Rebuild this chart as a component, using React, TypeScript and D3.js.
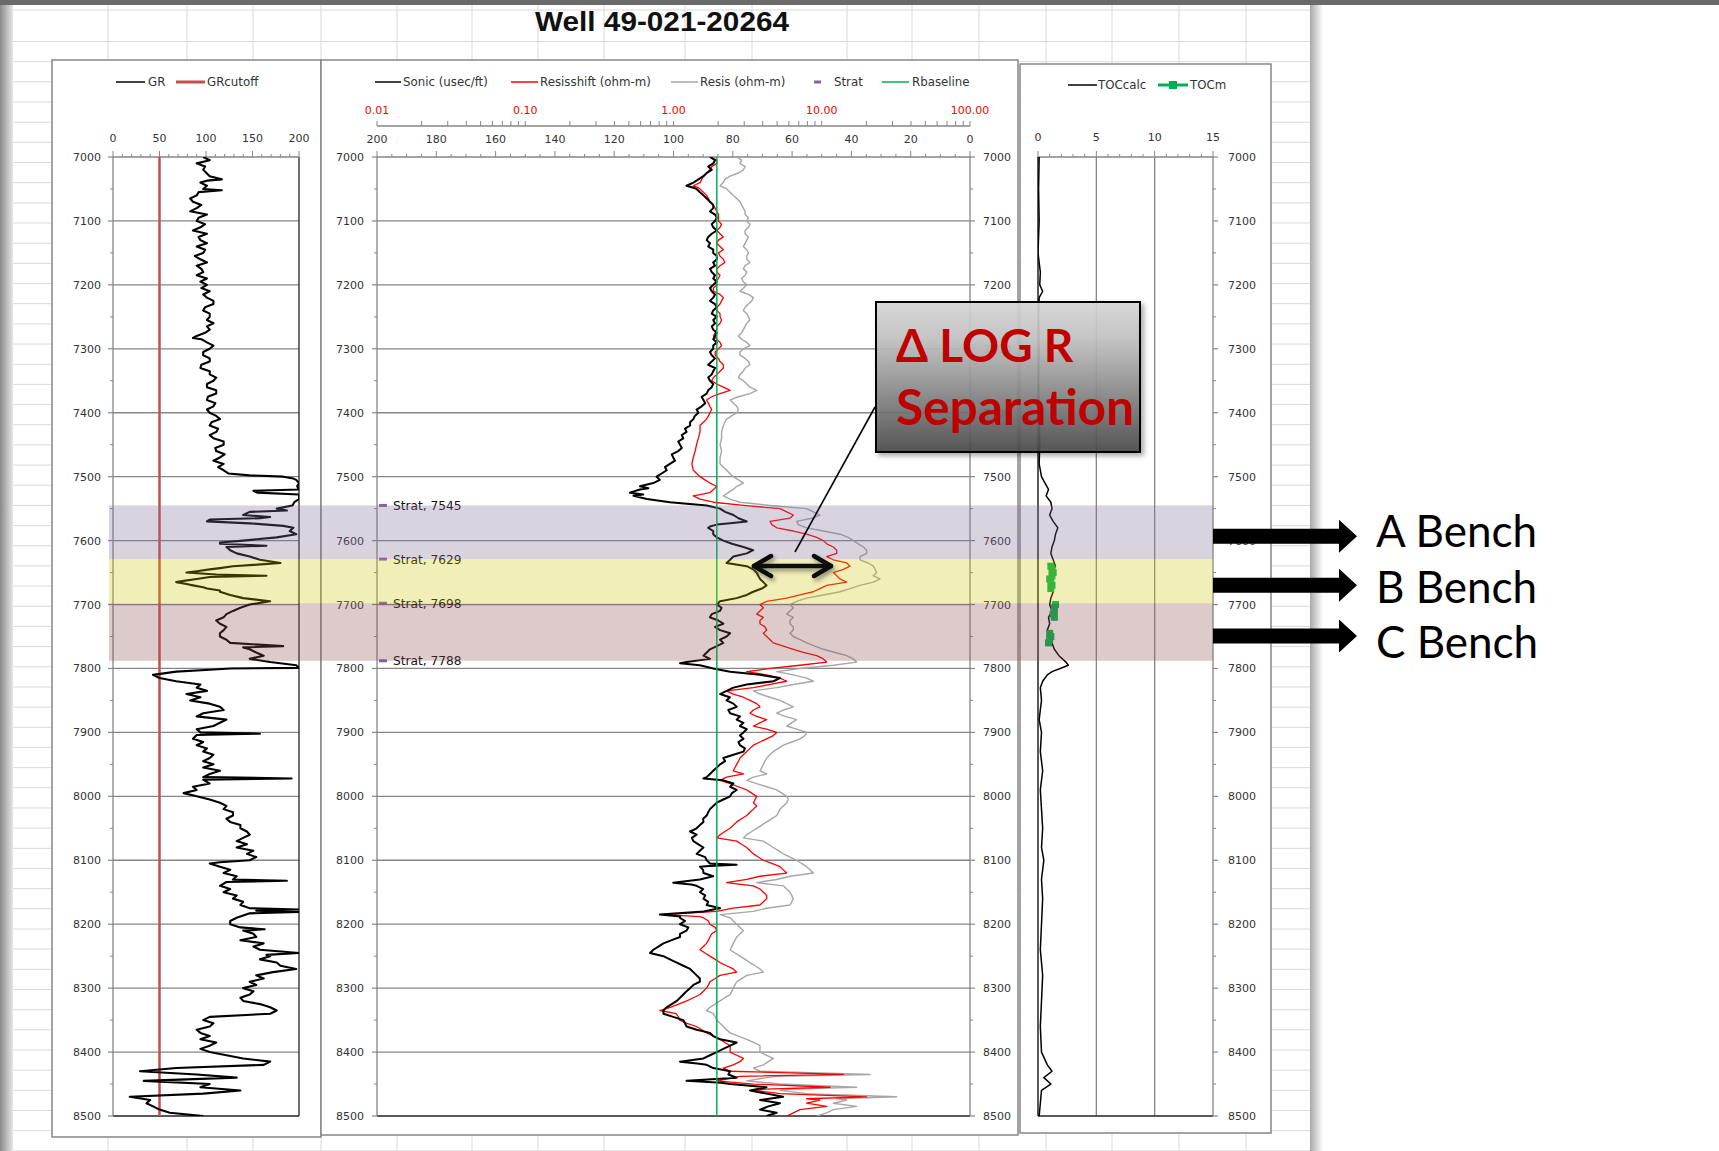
import React from "react";
import * as d3 from "d3";

// ---------------- DATA ----------------
const DEPTH_TICKS = [7000, 7100, 7200, 7300, 7400, 7500, 7600, 7700, 7800, 7900, 8000, 8100, 8200, 8300, 8400, 8500];
const GR_TICKS = [0, 50, 100, 150, 200];
const SONIC_TICKS = [200, 180, 160, 140, 120, 100, 80, 60, 40, 20, 0];
const RES_TICKS = [0.01, 0.1, 1, 10, 100];
const RES_LABELS = ["0.01", "0.10", "1.00", "10.00", "100.00"];
const TOC_TICKS = [0, 5, 10, 15];
const GR_CUTOFF = 50;
const RBASELINE = 1.96;
const STRAT_DEPTHS = [7545, 7629, 7698, 7788];
const STRAT_SONIC = 198;
const BENCH_NAMES = ["A Bench", "B Bench", "C Bench"];
const BENCH_TOPS = [7545, 7629, 7698];
const BENCH_BASES = [7629, 7698, 7788];
const BENCH_COLORS = ["rgba(128,108,152,0.30)", "rgba(204,197,0,0.28)", "rgba(142,82,82,0.30)"];

const GR: number[][] = [
  [7000, 97], [7005, 104], [7010, 90], [7015, 99], [7020, 97], [7030, 104], [7035, 117], [7037, 101], [7040, 94], [7045, 101],
  [7050, 97], [7052, 117], [7055, 92], [7060, 90], [7065, 83], [7070, 86], [7075, 95], [7080, 90], [7085, 83], [7090, 101],
  [7095, 92], [7100, 90], [7105, 99], [7110, 94], [7115, 86], [7120, 101], [7125, 92], [7130, 94], [7135, 101], [7140, 90],
  [7145, 99], [7150, 97], [7155, 88], [7160, 94], [7165, 101], [7170, 90], [7175, 95], [7180, 97], [7185, 90], [7190, 101],
  [7195, 94], [7200, 101], [7205, 95], [7210, 104], [7215, 97], [7220, 101], [7225, 108], [7230, 108], [7235, 99], [7240, 97],
  [7245, 104], [7250, 104], [7255, 101], [7260, 108], [7265, 101], [7270, 104], [7275, 99], [7280, 90], [7283, 86], [7285, 95],
  [7290, 101], [7295, 108], [7300, 104], [7305, 97], [7310, 97], [7315, 104], [7320, 104], [7325, 95], [7330, 94], [7335, 104],
  [7340, 104], [7345, 111], [7350, 108], [7355, 101], [7360, 101], [7365, 111], [7370, 111], [7375, 102], [7380, 101], [7385, 110],
  [7390, 108], [7395, 101], [7400, 104], [7405, 111], [7410, 115], [7415, 106], [7420, 104], [7425, 113], [7430, 111], [7435, 104],
  [7440, 108], [7445, 119], [7450, 119], [7455, 110], [7460, 111], [7465, 120], [7470, 115], [7475, 108], [7480, 119], [7485, 113],
  [7490, 119], [7495, 124], [7498, 147], [7500, 183], [7503, 194], [7505, 197], [7510, 200], [7515, 198], [7520, 200], [7522, 151],
  [7525, 155], [7528, 200], [7535, 200], [7540, 195], [7545, 193], [7550, 176], [7553, 187], [7555, 147], [7560, 140], [7563, 169],
  [7565, 158], [7567, 104], [7570, 101], [7573, 147], [7577, 183], [7580, 194], [7585, 190], [7590, 197], [7595, 176], [7600, 140],
  [7603, 115], [7605, 115], [7608, 165], [7610, 122], [7615, 126], [7620, 133], [7625, 147], [7630, 158], [7635, 180], [7638, 151],
  [7640, 129], [7643, 115], [7645, 104], [7648, 90], [7650, 79], [7653, 111], [7655, 165], [7657, 104], [7660, 90], [7663, 76],
  [7665, 68], [7668, 79], [7670, 86], [7673, 97], [7675, 101], [7678, 115], [7680, 115], [7685, 126], [7690, 140], [7695, 169],
  [7700, 147], [7705, 137], [7710, 129], [7715, 122], [7720, 119], [7725, 111], [7730, 115], [7735, 122], [7740, 119], [7745, 115],
  [7750, 115], [7755, 122], [7760, 126], [7765, 183], [7767, 140], [7770, 147], [7775, 154], [7780, 162], [7785, 147], [7790, 169],
  [7795, 197], [7799, 200], [7800, 126], [7802, 104], [7805, 68], [7810, 43], [7815, 50], [7820, 68], [7825, 94], [7830, 90],
  [7835, 101], [7840, 79], [7845, 94], [7850, 83], [7855, 104], [7860, 115], [7865, 119], [7870, 97], [7875, 90], [7880, 122],
  [7885, 115], [7890, 108], [7895, 90], [7900, 94], [7902, 158], [7904, 90], [7910, 86], [7915, 97], [7920, 90], [7925, 101],
  [7930, 97], [7935, 108], [7940, 104], [7945, 97], [7950, 108], [7955, 97], [7960, 115], [7965, 104], [7970, 97], [7972, 192],
  [7974, 97], [7980, 104], [7985, 86], [7990, 90], [7995, 76], [8000, 90], [8005, 104], [8010, 115], [8015, 122], [8020, 119],
  [8025, 129], [8030, 129], [8035, 122], [8040, 126], [8045, 137], [8050, 137], [8055, 144], [8060, 147], [8065, 140], [8070, 133],
  [8075, 144], [8080, 133], [8085, 151], [8090, 144], [8095, 154], [8100, 147], [8103, 115], [8105, 104], [8110, 115], [8115, 126],
  [8120, 119], [8125, 133], [8130, 129], [8132, 187], [8134, 122], [8140, 115], [8145, 126], [8150, 119], [8155, 133], [8160, 129],
  [8165, 140], [8170, 137], [8175, 147], [8177, 200], [8179, 154], [8181, 200], [8183, 147], [8190, 133], [8195, 126], [8200, 126],
  [8205, 137], [8208, 163], [8210, 140], [8215, 151], [8220, 154], [8225, 137], [8230, 162], [8235, 151], [8240, 158], [8245, 200],
  [8248, 165], [8250, 169], [8255, 158], [8260, 176], [8265, 180], [8270, 197], [8275, 172], [8280, 154], [8285, 162], [8290, 147],
  [8295, 154], [8300, 140], [8305, 151], [8310, 147], [8315, 137], [8320, 140], [8325, 158], [8330, 169], [8335, 176], [8340, 169],
  [8345, 104], [8350, 97], [8355, 108], [8360, 104], [8365, 90], [8370, 94], [8375, 104], [8380, 94], [8385, 111], [8390, 104],
  [8395, 94], [8400, 104], [8405, 122], [8410, 140], [8415, 169], [8420, 162], [8425, 68], [8430, 29], [8435, 90], [8440, 133],
  [8445, 33], [8450, 104], [8455, 94], [8460, 137], [8465, 97], [8470, 18], [8475, 40], [8480, 36], [8485, 43], [8490, 50],
  [8495, 61], [8500, 97],
];

const SONIC: number[][] = [
  [7000, 87.7], [7005, 86.0], [7010, 86.6], [7015, 88.3], [7020, 87.1], [7025, 88.8], [7030, 89.9], [7035, 91.6], [7040, 93.3], [7045, 95.6],
  [7048, 93.3], [7050, 92.2], [7055, 91.1], [7060, 89.9], [7065, 88.8], [7070, 87.7], [7075, 86.6], [7080, 86.6], [7085, 87.7], [7090, 86.0],
  [7095, 85.4], [7100, 86.0], [7105, 87.1], [7110, 86.6], [7115, 85.4], [7120, 87.1], [7125, 88.3], [7130, 88.8], [7135, 87.7], [7140, 88.3],
  [7145, 86.6], [7150, 86.6], [7155, 85.4], [7160, 85.4], [7165, 86.6], [7170, 86.0], [7175, 87.7], [7180, 87.1], [7185, 86.0], [7190, 86.6],
  [7195, 85.4], [7200, 86.6], [7205, 87.7], [7210, 87.1], [7215, 86.0], [7220, 86.6], [7225, 87.7], [7230, 86.0], [7235, 85.4], [7240, 86.6],
  [7245, 87.1], [7250, 85.4], [7255, 86.6], [7260, 86.0], [7265, 87.1], [7270, 86.6], [7275, 85.4], [7280, 86.0], [7285, 86.6], [7290, 85.4],
  [7295, 86.6], [7300, 86.6], [7305, 87.7], [7310, 87.1], [7315, 86.0], [7320, 87.1], [7325, 88.3], [7330, 86.0], [7335, 86.6], [7340, 87.1],
  [7345, 88.3], [7350, 87.7], [7355, 86.6], [7360, 87.1], [7365, 88.3], [7370, 88.8], [7375, 90.5], [7380, 89.9], [7385, 89.3], [7390, 90.5],
  [7395, 92.2], [7400, 91.6], [7405, 92.8], [7410, 93.3], [7415, 94.4], [7420, 94.4], [7425, 96.1], [7430, 95.6], [7435, 97.2], [7440, 96.7],
  [7445, 98.4], [7450, 97.8], [7455, 97.2], [7460, 98.4], [7465, 100.6], [7470, 100.1], [7475, 99.5], [7480, 101.2], [7485, 102.9], [7490, 102.3],
  [7495, 104.0], [7500, 105.7], [7505, 104.6], [7510, 106.8], [7515, 111.3], [7518, 108.5], [7520, 111.3], [7525, 114.7], [7528, 110.2], [7530, 113.5],
  [7535, 109.0], [7540, 101.2], [7545, 88.8], [7550, 84.3], [7555, 82.6], [7560, 79.8], [7565, 78.1], [7570, 75.3], [7573, 80.9], [7575, 85.4],
  [7578, 87.7], [7580, 88.3], [7585, 86.6], [7590, 86.6], [7595, 85.4], [7600, 83.2], [7605, 80.3], [7610, 76.4], [7615, 73.1], [7620, 75.3],
  [7625, 79.8], [7630, 80.9], [7635, 82.1], [7640, 75.3], [7645, 73.1], [7650, 72.0], [7655, 71.4], [7660, 70.8], [7665, 69.7], [7670, 68.6],
  [7675, 70.2], [7680, 73.1], [7685, 75.3], [7690, 78.7], [7695, 84.3], [7700, 85.4], [7705, 83.8], [7710, 84.3], [7715, 87.1], [7720, 87.7],
  [7725, 84.9], [7730, 83.2], [7735, 86.0], [7740, 84.3], [7745, 80.9], [7750, 82.1], [7755, 84.3], [7760, 83.2], [7765, 85.4], [7770, 87.7],
  [7775, 88.8], [7780, 89.9], [7785, 87.7], [7790, 95.6], [7792, 97.8], [7795, 91.1], [7800, 86.6], [7805, 80.9], [7810, 70.8], [7815, 64.1],
  [7820, 66.3], [7825, 75.3], [7830, 79.8], [7835, 82.1], [7840, 84.3], [7845, 81.0], [7850, 82.1], [7855, 79.8], [7860, 78.7], [7865, 81.5],
  [7870, 80.9], [7875, 77.6], [7880, 78.7], [7885, 76.4], [7890, 77.6], [7895, 75.3], [7900, 76.4], [7905, 77.6], [7910, 76.4], [7915, 78.1],
  [7920, 77.6], [7925, 75.9], [7930, 76.4], [7935, 79.8], [7940, 83.2], [7945, 82.6], [7950, 84.3], [7955, 85.4], [7960, 86.6], [7965, 87.7],
  [7970, 88.8], [7972, 89.9], [7975, 83.2], [7980, 79.8], [7985, 80.9], [7990, 78.7], [7995, 80.3], [8000, 80.9], [8005, 83.2], [8010, 85.4],
  [8015, 86.6], [8020, 87.7], [8025, 88.3], [8030, 88.8], [8035, 90.0], [8040, 89.9], [8045, 91.1], [8050, 92.2], [8055, 94.4], [8060, 92.2],
  [8065, 93.8], [8070, 93.3], [8075, 91.6], [8080, 89.9], [8085, 91.1], [8090, 92.2], [8095, 89.3], [8100, 88.8], [8105, 87.7], [8107, 78.7],
  [8109, 88.0], [8110, 91.1], [8115, 90.0], [8120, 89.9], [8125, 86.6], [8130, 91.1], [8135, 100.1], [8138, 94.0], [8140, 92.2], [8145, 90.0],
  [8150, 91.1], [8155, 89.3], [8160, 89.9], [8165, 88.3], [8170, 88.8], [8175, 84.3], [8180, 89.9], [8185, 104.6], [8188, 97.8], [8190, 97.8],
  [8195, 96.1], [8200, 97.8], [8205, 95.0], [8210, 95.6], [8215, 97.8], [8220, 97.8], [8225, 100.6], [8230, 103.4], [8235, 105.1], [8240, 106.8],
  [8245, 107.9], [8250, 103.4], [8255, 101.2], [8260, 98.9], [8265, 96.7], [8270, 94.4], [8275, 93.3], [8280, 92.2], [8285, 91.1], [8290, 91.1],
  [8295, 93.3], [8300, 94.4], [8305, 95.6], [8310, 96.7], [8315, 97.8], [8320, 98.9], [8325, 100.6], [8330, 102.3], [8335, 103.4], [8340, 103.4],
  [8345, 100.1], [8350, 96.7], [8355, 96.1], [8360, 95.6], [8365, 92.2], [8370, 87.7], [8375, 86.6], [8380, 84.3], [8385, 78.7], [8390, 80.9],
  [8395, 83.2], [8400, 85.4], [8405, 87.7], [8410, 89.9], [8415, 97.8], [8418, 92.0], [8420, 88.8], [8425, 86.6], [8430, 80.9], [8435, 81.5],
  [8440, 78.7], [8445, 95.6], [8448, 84.0], [8450, 80.9], [8455, 68.6], [8460, 74.2], [8465, 68.6], [8470, 63.0], [8475, 70.8], [8480, 64.1],
  [8485, 68.0], [8490, 70.8], [8495, 65.2], [8500, 68.6],
];

const RESISSHIFT: number[][] = [
  [7000, 1.76], [7005, 1.96], [7010, 1.96], [7015, 1.81], [7020, 1.76], [7025, 1.67], [7030, 1.59], [7035, 1.55], [7040, 1.51], [7045, 1.36],
  [7048, 1.47], [7050, 1.51], [7055, 1.59], [7060, 1.67], [7065, 1.72], [7070, 1.76], [7075, 1.86], [7080, 1.91], [7085, 1.96], [7090, 2.01],
  [7100, 2.01], [7105, 2.11], [7110, 2.06], [7115, 1.96], [7120, 2.06], [7125, 2.17], [7130, 2.01], [7135, 1.96], [7140, 2.06], [7145, 2.17],
  [7150, 2.01], [7155, 2.06], [7160, 2.17], [7165, 2.22], [7170, 2.06], [7175, 1.96], [7180, 1.96], [7185, 2.06], [7190, 2.01], [7195, 1.91],
  [7200, 1.96], [7205, 1.86], [7210, 1.86], [7215, 2.06], [7220, 2.17], [7225, 2.11], [7230, 2.06], [7235, 1.96], [7240, 1.96], [7245, 2.06],
  [7250, 2.06], [7255, 2.11], [7260, 2.06], [7265, 1.96], [7270, 1.96], [7275, 1.91], [7280, 1.86], [7285, 1.96], [7290, 2.06], [7295, 2.11],
  [7300, 2.01], [7305, 1.91], [7310, 1.91], [7315, 2.01], [7320, 2.06], [7325, 2.17], [7330, 2.17], [7335, 2.06], [7340, 1.96], [7345, 1.86],
  [7350, 1.81], [7355, 1.96], [7360, 2.17], [7365, 2.41], [7370, 2.06], [7375, 1.81], [7380, 1.67], [7385, 1.72], [7390, 1.76], [7395, 1.81],
  [7400, 1.76], [7405, 1.72], [7410, 1.67], [7415, 1.59], [7420, 1.51], [7430, 1.51], [7440, 1.47], [7450, 1.43], [7460, 1.40], [7470, 1.36],
  [7480, 1.33], [7490, 1.36], [7500, 1.51], [7505, 1.63], [7510, 1.76], [7515, 1.96], [7520, 1.86], [7525, 1.76], [7528, 1.51], [7530, 1.36],
  [7535, 1.51], [7540, 1.86], [7545, 2.96], [7550, 5.23], [7555, 5.80], [7560, 6.43], [7565, 6.11], [7570, 4.48], [7575, 4.60], [7580, 4.97],
  [7585, 6.43], [7590, 7.91], [7595, 9.24], [7600, 10.25], [7605, 10.8], [7610, 11.97], [7615, 12.61], [7620, 12.61], [7625, 10.79], [7630, 11.97],
  [7635, 14.73], [7640, 15.51], [7645, 14.0], [7650, 11.97], [7655, 12.61], [7660, 13.28], [7665, 14.73], [7670, 10.79], [7675, 9.73], [7680, 8.77],
  [7685, 7.13], [7690, 5.80], [7695, 4.25], [7700, 3.83], [7705, 4.04], [7710, 3.83], [7715, 3.64], [7720, 4.04], [7725, 3.83], [7730, 3.83],
  [7735, 4.14], [7740, 4.25], [7745, 4.04], [7750, 4.25], [7755, 4.48], [7760, 4.71], [7765, 5.51], [7770, 6.43], [7775, 7.51], [7780, 9.24],
  [7785, 10.25], [7790, 10.79], [7795, 7.13], [7800, 4.48], [7805, 3.12], [7810, 4.25], [7815, 5.23], [7820, 5.80], [7825, 4.48], [7830, 3.46],
  [7835, 2.28], [7840, 2.53], [7845, 2.96], [7850, 3.28], [7855, 3.64], [7860, 3.83], [7865, 3.46], [7870, 3.28], [7875, 3.64], [7880, 4.25],
  [7885, 3.83], [7890, 3.46], [7895, 4.25], [7900, 4.97], [7905, 4.71], [7910, 4.25], [7915, 3.83], [7920, 3.46], [7925, 3.28], [7930, 3.12],
  [7935, 2.96], [7940, 2.81], [7945, 2.74], [7950, 2.67], [7955, 2.60], [7960, 2.53], [7965, 2.96], [7970, 2.28], [7975, 2.06], [7980, 2.41],
  [7985, 2.74], [7990, 3.12], [7995, 3.37], [8000, 3.64], [8005, 3.55], [8010, 3.46], [8015, 3.64], [8020, 3.46], [8025, 3.28], [8030, 3.12],
  [8035, 2.88], [8040, 2.67], [8045, 2.53], [8050, 2.41], [8055, 2.22], [8060, 2.06], [8065, 1.96], [8070, 2.67], [8075, 2.88], [8080, 3.12],
  [8085, 3.28], [8090, 3.46], [8095, 3.73], [8100, 4.04], [8105, 4.60], [8110, 5.23], [8115, 5.51], [8120, 5.80], [8125, 3.83], [8130, 3.12],
  [8135, 2.28], [8140, 3.46], [8145, 3.83], [8150, 4.04], [8155, 4.25], [8160, 4.25], [8165, 4.04], [8170, 3.83], [8175, 2.53], [8180, 1.96],
  [8185, 0.85], [8188, 1.51], [8190, 1.59], [8195, 1.72], [8200, 1.76], [8205, 1.91], [8210, 1.96], [8215, 1.81], [8220, 1.76], [8225, 1.72],
  [8230, 1.67], [8235, 1.59], [8240, 1.51], [8245, 1.63], [8250, 1.76], [8255, 1.91], [8260, 2.06], [8265, 2.28], [8270, 2.53], [8275, 2.67],
  [8280, 2.06], [8285, 1.91], [8290, 1.76], [8295, 1.72], [8300, 1.67], [8305, 1.59], [8310, 1.51], [8315, 1.36], [8320, 1.23], [8325, 1.08],
  [8330, 0.95], [8335, 0.81], [8340, 1.04], [8345, 1.08], [8350, 1.10], [8355, 1.23], [8360, 1.43], [8365, 1.55], [8370, 1.67], [8375, 1.86],
  [8380, 2.06], [8385, 2.22], [8390, 2.41], [8400, 2.41], [8405, 2.67], [8410, 2.96], [8415, 2.81], [8420, 2.53], [8425, 2.17], [8430, 2.41],
  [8435, 14.0], [8438, 2.81], [8440, 2.53], [8445, 1.96], [8450, 3.46], [8455, 11.4], [8458, 4.2], [8460, 3.46], [8465, 5.23], [8470, 20.1],
  [8473, 7.91], [8475, 9.73], [8480, 7.91], [8485, 10.79], [8490, 7.13], [8495, 6.43], [8500, 5.80],
];

const RESIS: number[][] = [
  [7000, 2.67], [7005, 2.88], [7010, 2.81], [7015, 3.04], [7020, 2.96], [7025, 2.74], [7030, 2.41], [7035, 2.22], [7040, 2.17], [7045, 2.06],
  [7050, 2.28], [7055, 2.41], [7060, 2.53], [7065, 2.67], [7070, 2.81], [7075, 2.88], [7080, 2.96], [7085, 3.04], [7090, 3.04], [7095, 3.20],
  [7100, 3.12], [7105, 3.28], [7110, 3.20], [7115, 3.04], [7120, 3.04], [7125, 3.20], [7130, 3.12], [7135, 3.04], [7140, 2.96], [7145, 3.12],
  [7150, 3.20], [7155, 3.12], [7160, 3.12], [7165, 3.28], [7170, 3.04], [7175, 2.96], [7180, 3.12], [7185, 3.04], [7190, 2.88], [7195, 2.96],
  [7200, 3.12], [7205, 2.96], [7210, 2.81], [7215, 3.20], [7220, 3.46], [7225, 3.37], [7230, 3.20], [7235, 3.04], [7240, 2.96], [7245, 3.12],
  [7250, 3.20], [7255, 3.28], [7260, 3.12], [7265, 3.04], [7270, 2.96], [7275, 2.88], [7280, 2.74], [7285, 2.88], [7290, 3.12], [7295, 3.28],
  [7300, 2.96], [7305, 2.81], [7310, 2.81], [7315, 3.04], [7320, 3.20], [7325, 3.28], [7330, 3.04], [7335, 2.96], [7340, 2.81], [7345, 2.74],
  [7350, 2.96], [7355, 3.12], [7360, 3.28], [7365, 3.64], [7370, 3.28], [7375, 2.74], [7380, 2.41], [7385, 2.53], [7390, 2.67], [7395, 2.74],
  [7400, 2.67], [7405, 2.47], [7410, 2.28], [7415, 2.22], [7420, 2.17], [7430, 2.11], [7440, 2.11], [7450, 2.06], [7460, 2.11], [7470, 2.06],
  [7480, 2.06], [7490, 2.28], [7500, 2.53], [7505, 2.74], [7510, 2.96], [7515, 2.67], [7520, 2.53], [7525, 2.34], [7530, 2.17], [7535, 2.41],
  [7540, 2.81], [7545, 4.48], [7550, 7.91], [7555, 8.77], [7560, 9.73], [7565, 8.55], [7570, 6.77], [7575, 6.95], [7580, 7.91], [7585, 10.25],
  [7590, 13.28], [7595, 15.1], [7600, 16.33], [7605, 17.65], [7610, 19.08], [7615, 20.1], [7620, 20.09], [7625, 18.11], [7630, 18.11], [7635, 20.6],
  [7640, 22.28], [7645, 22.9], [7650, 23.46], [7655, 22.28], [7660, 24.71], [7665, 22.28], [7670, 18.11], [7675, 15.51], [7680, 13.28], [7685, 10.25],
  [7690, 7.91], [7695, 6.77], [7700, 6.11], [7705, 6.43], [7710, 6.11], [7715, 5.80], [7720, 6.43], [7725, 6.11], [7730, 6.11], [7735, 6.43],
  [7740, 6.43], [7745, 6.11], [7750, 6.43], [7755, 7.13], [7760, 7.91], [7765, 9.0], [7770, 10.25], [7775, 12.3], [7780, 14.73], [7785, 16.33],
  [7790, 17.2], [7795, 11.97], [7800, 7.13], [7805, 4.97], [7810, 6.43], [7815, 7.91], [7820, 8.77], [7825, 6.43], [7830, 4.97], [7835, 3.46],
  [7840, 3.83], [7845, 4.48], [7850, 5.23], [7855, 5.80], [7860, 6.43], [7865, 5.51], [7870, 4.97], [7875, 5.65], [7880, 6.77], [7885, 6.27],
  [7890, 5.80], [7895, 6.77], [7900, 7.91], [7905, 7.7], [7910, 7.13], [7915, 6.27], [7920, 5.51], [7925, 5.10], [7930, 4.71], [7935, 4.48],
  [7940, 4.25], [7945, 4.14], [7950, 4.04], [7955, 3.94], [7960, 3.83], [7965, 4.25], [7970, 3.46], [7975, 3.12], [7980, 3.64], [7985, 4.25],
  [7990, 4.97], [7995, 5.37], [8000, 5.80], [8005, 5.95], [8010, 5.80], [8015, 5.51], [8020, 5.23], [8025, 5.10], [8030, 4.97], [8035, 4.60],
  [8040, 4.25], [8045, 3.94], [8050, 3.64], [8055, 3.37], [8060, 3.12], [8065, 2.96], [8070, 4.04], [8075, 4.36], [8080, 4.71], [8085, 5.10],
  [8090, 5.51], [8095, 6.11], [8100, 6.77], [8105, 7.3], [8110, 7.91], [8115, 8.33], [8120, 8.77], [8125, 6.11], [8130, 4.97], [8135, 3.64],
  [8140, 5.51], [8145, 5.80], [8150, 6.11], [8155, 6.27], [8160, 6.43], [8165, 6.27], [8170, 6.11], [8175, 4.25], [8180, 3.46], [8185, 2.06],
  [8190, 2.41], [8195, 2.53], [8200, 2.67], [8205, 2.81], [8210, 2.96], [8215, 2.81], [8220, 2.67], [8225, 2.60], [8230, 2.53], [8235, 2.47],
  [8240, 2.41], [8245, 2.60], [8250, 2.81], [8255, 3.04], [8260, 3.28], [8265, 3.55], [8270, 3.83], [8275, 4.04], [8280, 3.12], [8285, 2.88],
  [8290, 2.67], [8295, 2.60], [8300, 2.53], [8305, 2.47], [8310, 2.41], [8315, 2.22], [8320, 2.06], [8325, 1.91], [8330, 1.76], [8335, 1.67],
  [8340, 1.86], [8345, 1.91], [8350, 1.96], [8355, 2.06], [8360, 2.17], [8365, 2.28], [8370, 2.41], [8375, 2.74], [8380, 3.12], [8385, 3.46],
  [8390, 3.83], [8400, 3.83], [8405, 4.25], [8410, 4.71], [8415, 4.36], [8420, 4.04], [8425, 3.46], [8430, 3.83], [8435, 21.15], [8438, 4.97],
  [8440, 4.25], [8445, 3.12], [8450, 5.23], [8455, 17.2], [8458, 6.43], [8460, 5.23], [8465, 7.91], [8470, 32.0], [8473, 12.6], [8475, 14.73],
  [8480, 11.97], [8485, 17.2], [8490, 11.97], [8495, 10.79], [8500, 9.24],
];

const TOC_CALC: number[][] = [
  [7000, 0.1], [7050, 0.05], [7100, 0.1], [7150, 0.0], [7180, 0.2], [7200, 0.15], [7210, 0.4], [7220, 0.1], [7250, 0.05], [7300, 0.1],
  [7350, 0.05], [7400, 0.1], [7450, 0.15], [7480, 0.1], [7500, 0.3], [7510, 0.6], [7520, 0.9], [7530, 0.7], [7540, 1.1], [7550, 1.2],
  [7560, 1.0], [7570, 1.3], [7580, 1.7], [7590, 1.5], [7600, 1.4], [7610, 1.2], [7620, 1.1], [7630, 1.3], [7640, 1.5], [7650, 1.2],
  [7660, 1.0], [7670, 1.1], [7680, 1.3], [7690, 1.1], [7700, 1.0], [7710, 1.2], [7720, 0.9], [7730, 1.0], [7740, 0.8], [7750, 0.9],
  [7760, 1.2], [7770, 1.4], [7780, 1.8], [7790, 2.4], [7795, 2.6], [7800, 1.9], [7805, 1.2], [7810, 0.8], [7820, 0.4], [7830, 0.2],
  [7850, 0.3], [7880, 0.1], [7900, 0.3], [7930, 0.2], [7960, 0.4], [7990, 0.2], [8020, 0.3], [8050, 0.4], [8080, 0.3], [8100, 0.5],
  [8130, 0.3], [8160, 0.4], [8200, 0.3], [8240, 0.2], [8280, 0.4], [8320, 0.3], [8360, 0.2], [8400, 0.3], [8420, 0.8], [8430, 1.2],
  [8440, 0.5], [8450, 1.1], [8460, 0.3], [8480, 0.2], [8500, 0.1],
];

const TOC_M: number[][] = [
  [7640, 1.1], [7645, 1.2], [7650, 1.3], [7655, 1.2], [7660, 1.0], [7665, 1.1], [7670, 1.2], [7675, 1.1],
  [7700, 1.5], [7705, 1.4], [7710, 1.4], [7715, 1.3], [7720, 1.4],
  [7745, 1.0], [7750, 1.1], [7755, 1.0], [7760, 0.9],
];

// ---------------- LAYOUT ----------------
const W = 1719;
const H = 1151;
const yD = d3.scaleLinear().domain([7000, 8500]).range([157, 1116]);
const xGR = d3.scaleLinear().domain([0, 200]).range([113, 299]);
const xSon = d3.scaleLinear().domain([200, 0]).range([377, 970]);
const xRes = d3.scaleLog().domain([0.01, 100]).range([377, 970]);
const xToc = d3.scaleLinear().domain([0, 15]).range([1038, 1213]);

const SHEET_COLS = [108, 187, 253, 321, 397, 472, 538, 604, 685, 752, 847, 912, 979, 1046, 1112, 1179, 1246];
const SHEET_RIGHT = 1310;
const SMALL = "'DejaVu Sans', sans-serif";
const AX = "#868686";
const TXT = "#333";
const LEG = 11.8;

function splitSegments(data: number[][], gap: number) {
  const segs: number[][][] = [];
  let cur: number[][] = [];
  data.forEach((d, i) => {
    if (i > 0 && d[0] - data[i - 1][0] > gap) { segs.push(cur); cur = []; }
    cur.push(d);
  });
  if (cur.length) segs.push(cur);
  return segs;
}

export default function App() {
  const lineGR = d3.line<number[]>().x(d => xGR(Math.min(d[1], 200))).y(d => yD(d[0]));
  const lineSon = d3.line<number[]>().x(d => xSon(d[1])).y(d => yD(d[0]));
  const lineRes = d3.line<number[]>().x(d => xRes(d[1])).y(d => yD(d[0]));
  const lineToc = d3.line<number[]>().x(d => xToc(d[1])).y(d => yD(d[0]));

  const minorDepth = yD.ticks(30).filter(t => t % 100 !== 0);
  const rows: number[] = [10];
  for (let y = 41.5; y < H; y += 20.17) rows.push(y);

  const depthAxis = (x: number, side: "left" | "right", labelX: number) => (
    <g>
      <line x1={x} x2={x} y1={yD(7000)} y2={yD(8500)} stroke={AX} strokeWidth={1.3} />
      {DEPTH_TICKS.map(t => (
        <g key={t}>
          <line x1={x} x2={side === "left" ? x - 5 : x + 5} y1={yD(t)} y2={yD(t)} stroke={AX} strokeWidth={1.2} />
          <text x={labelX} y={yD(t) + 4} fontSize={11} fontFamily={SMALL} fill={TXT}
            textAnchor={side === "left" ? "end" : "start"}>{t}</text>
        </g>
      ))}
      {minorDepth.map(t => (
        <line key={t} x1={x} x2={side === "left" ? x - 3 : x + 3} y1={yD(t)} y2={yD(t)} stroke={AX} strokeWidth={1} />
      ))}
    </g>
  );

  const hGrid = (x1: number, x2: number) => DEPTH_TICKS.slice(1, -1).map(t => (
    <line key={t} x1={x1} x2={x2} y1={yD(t)} y2={yD(t)} stroke={AX} strokeWidth={1.3} />
  ));

  const benchArrowY = BENCH_TOPS.map((t, i) => yD((t + BENCH_BASES[i]) / 2) + 4);

  return (
    <svg width={W} height={H} style={{ position: "absolute", left: 0, top: 0, background: "#fff" }}>
      <defs>
        <linearGradient id="leftShadow" x1="0" x2="1" y1="0" y2="0">
          <stop offset="0" stopColor="#8a8a8a" />
          <stop offset="1" stopColor="#e6e6e6" />
        </linearGradient>
        <linearGradient id="rightShadow" x1="0" x2="1" y1="0" y2="0">
          <stop offset="0" stopColor="#a8a8a8" />
          <stop offset="1" stopColor="#ffffff" />
        </linearGradient>
        <linearGradient id="boxGrad" x1="0" x2="0" y1="0" y2="1">
          <stop offset="0" stopColor="#d8d8d8" />
          <stop offset="0.25" stopColor="#c2c2c2" />
          <stop offset="1" stopColor="#4a4a4a" />
        </linearGradient>
        <filter id="dshadow" x="-20%" y="-20%" width="140%" height="140%">
          <feDropShadow dx="3" dy="3" stdDeviation="2.5" floodColor="#000" floodOpacity="0.35" />
        </filter>
        <filter id="ashadow" x="-20%" y="-50%" width="140%" height="200%">
          <feDropShadow dx="2" dy="3" stdDeviation="2" floodColor="#333" floodOpacity="0.5" />
        </filter>
        <clipPath id="clipGR"><rect x={113} y={157} width={186} height={959} /></clipPath>
        <clipPath id="clipMid"><rect x={377} y={157} width={593} height={959} /></clipPath>
        <clipPath id="clipToc"><rect x={1038} y={157} width={175} height={959} /></clipPath>
      </defs>

      {/* Excel sheet background */}
      <rect x={0} y={0} width={W} height={H} fill="#fff" />
      <g stroke="#d9d9d9" strokeWidth={1}>
        {rows.map((y, i) => <line key={"r" + i} x1={13} x2={SHEET_RIGHT} y1={y} y2={y} />)}
        {SHEET_COLS.map((x, i) => <line key={"c" + i} x1={x} x2={x} y1={5} y2={H} />)}
      </g>
      <rect x={0} y={0} width={13} height={H} fill="url(#leftShadow)" />
      <rect x={SHEET_RIGHT} y={0} width={13} height={H} fill="url(#rightShadow)" />
      <rect x={0} y={0} width={W} height={5} fill="#6a6a6a" />

      {/* Title */}
      <text x={662} y={31} textAnchor="middle" fontFamily="'Liberation Sans', Arial, sans-serif" fontWeight="bold"
        fontSize={28} textLength={254} lengthAdjust="spacingAndGlyphs" fill="#111">Well 49-021-20264</text>

      {/* Panels */}
      <rect x={52} y={60} width={269} height={1077} fill="#fff" stroke={AX} strokeWidth={1.5} />
      <rect x={321} y={60} width={697} height={1075} fill="#fff" stroke={AX} strokeWidth={1.5} />
      <rect x={1020} y={64} width={251} height={1069} fill="#fff" stroke={AX} strokeWidth={1.5} />

      {/* ---------- GR panel ---------- */}
      <g>
        <line x1={116} x2={145} y1={82} y2={82} stroke="#000" strokeWidth={1.5} />
        <text x={148} y={86} fontSize={LEG} fontFamily={SMALL} fill={TXT}>GR</text>
        <line x1={176} x2={205} y1={82} y2={82} stroke="#c0504d" strokeWidth={3} />
        <text x={207} y={86} fontSize={LEG} fontFamily={SMALL} fill={TXT}>GRcutoff</text>
        {hGrid(113, 299)}
        <line x1={299} x2={299} y1={157} y2={1116} stroke="#222" strokeWidth={1.3} />
        <line x1={113} x2={299} y1={1116} y2={1116} stroke="#222" strokeWidth={1.3} />
        <line x1={113} x2={299} y1={157} y2={157} stroke={AX} strokeWidth={1.3} />
        {xGR.ticks(20).map(t => (
          <line key={t} x1={xGR(t)} x2={xGR(t)} y1={157} y2={t % 50 === 0 ? 151 : 154} stroke={AX} strokeWidth={1} />
        ))}
        {GR_TICKS.map(t => (
          <text key={t} x={xGR(t)} y={142} textAnchor="middle" fontSize={11} fontFamily={SMALL} fill={TXT}>{t}</text>
        ))}
        {depthAxis(113, "left", 101)}
        <g clipPath="url(#clipGR)">
          <line x1={xGR(GR_CUTOFF)} x2={xGR(GR_CUTOFF)} y1={157} y2={1116} stroke="#c0504d" strokeWidth={2.5} />
          <path d={lineGR(GR) || ""} fill="none" stroke="#000" strokeWidth={2.1} strokeLinejoin="round" />
        </g>
      </g>

      {/* ---------- Middle panel ---------- */}
      <g>
        <line x1={375} x2={401} y1={82} y2={82} stroke="#000" strokeWidth={1.5} />
        <text x={403} y={86} fontSize={LEG} fontFamily={SMALL} fill={TXT}>Sonic (usec/ft)</text>
        <line x1={511} x2={538} y1={82} y2={82} stroke="#ff0000" strokeWidth={1.5} />
        <text x={540} y={86} fontSize={LEG} fontFamily={SMALL} fill={TXT}>Resisshift (ohm-m)</text>
        <line x1={671} x2={698} y1={82} y2={82} stroke="#a6a6a6" strokeWidth={1.5} />
        <text x={700} y={86} fontSize={LEG} fontFamily={SMALL} fill={TXT}>Resis (ohm-m)</text>
        <line x1={814} x2={821} y1={82} y2={82} stroke="#8064a2" strokeWidth={3} />
        <text x={834} y={86} fontSize={LEG} fontFamily={SMALL} fill={TXT}>Strat</text>
        <line x1={882} x2={909} y1={82} y2={82} stroke="#00b050" strokeWidth={1.5} />
        <text x={912} y={86} fontSize={LEG} fontFamily={SMALL} fill={TXT}>Rbaseline</text>

        <line x1={377} x2={970} y1={126} y2={126} stroke={AX} strokeWidth={1.3} />
        {xRes.ticks().map((t, i) => (
          <line key={i} x1={xRes(t)} x2={xRes(t)} y1={126} y2={121} stroke={AX} strokeWidth={1} />
        ))}
        {RES_TICKS.map((t, i) => (
          <text key={t} x={xRes(t)} y={114} textAnchor="middle" fontSize={11} fontFamily={SMALL} fill="#ff0000">{RES_LABELS[i]}</text>
        ))}
        <line x1={377} x2={970} y1={157} y2={157} stroke={AX} strokeWidth={1.3} />
        {xSon.ticks(40).map(t => (
          <line key={t} x1={xSon(t)} x2={xSon(t)} y1={157} y2={t % 20 === 0 ? 151 : 154} stroke={AX} strokeWidth={1} />
        ))}
        {SONIC_TICKS.map(t => (
          <text key={t} x={xSon(t)} y={143} textAnchor="middle" fontSize={11} fontFamily={SMALL} fill={TXT}>{t}</text>
        ))}
        {hGrid(377, 970)}
        <line x1={377} x2={970} y1={1116} y2={1116} stroke="#222" strokeWidth={1.3} />
        {depthAxis(377, "left", 364)}
        {depthAxis(970, "right", 983)}

        <g clipPath="url(#clipMid)">
          <path d={lineRes(RESIS) || ""} fill="none" stroke="#a6a6a6" strokeWidth={1.4} strokeLinejoin="round" />
          <path d={lineRes(RESISSHIFT) || ""} fill="none" stroke="#ff0000" strokeWidth={1.3} strokeLinejoin="round" />
          <path d={lineSon(SONIC) || ""} fill="none" stroke="#000" strokeWidth={2} strokeLinejoin="round" />
          <line x1={xRes(RBASELINE)} x2={xRes(RBASELINE)} y1={157} y2={1116} stroke="#00b050" strokeWidth={1.5} />
        </g>
        {STRAT_DEPTHS.map(d => (
          <g key={d}>
            <line x1={xSon(STRAT_SONIC) - 4} x2={xSon(STRAT_SONIC) + 4} y1={yD(d)} y2={yD(d)} stroke="#8064a2" strokeWidth={3} />
            <text x={xSon(STRAT_SONIC) + 10} y={yD(d) + 4.5} fontSize={12.2} fontFamily={SMALL} fill="#111">{`Strat, ${d}`}</text>
          </g>
        ))}
      </g>

      {/* ---------- TOC panel ---------- */}
      <g>
        <line x1={1068} x2={1097} y1={85} y2={85} stroke="#000" strokeWidth={1.5} />
        <text x={1098} y={89} fontSize={LEG} fontFamily={SMALL} fill={TXT}>TOCcalc</text>
        <line x1={1158} x2={1188} y1={85} y2={85} stroke="#00b050" strokeWidth={3} />
        <rect x={1169} y={81} width={8} height={8} fill="#00b050" />
        <text x={1190} y={89} fontSize={LEG} fontFamily={SMALL} fill={TXT}>TOCm</text>

        {[5, 10].map(t => (
          <line key={t} x1={xToc(t)} x2={xToc(t)} y1={157} y2={1116} stroke={AX} strokeWidth={1.3} />
        ))}
        <line x1={1038} x2={1213} y1={157} y2={157} stroke={AX} strokeWidth={1.3} />
        {xToc.ticks(15).map(t => (
          <line key={t} x1={xToc(t)} x2={xToc(t)} y1={157} y2={t % 5 === 0 ? 151 : 154} stroke={AX} strokeWidth={1} />
        ))}
        {TOC_TICKS.map(t => (
          <text key={t} x={xToc(t)} y={141} textAnchor="middle" fontSize={11} fontFamily={SMALL} fill={TXT}>{t}</text>
        ))}
        <line x1={1038} x2={1038} y1={157} y2={1116} stroke="#222" strokeWidth={1.5} />
        <line x1={1038} x2={1213} y1={1116} y2={1116} stroke="#222" strokeWidth={1.3} />
        {depthAxis(1213, "right", 1228)}
        <g clipPath="url(#clipToc)">
          <path d={lineToc(TOC_CALC) || ""} fill="none" stroke="#000" strokeWidth={1.5} strokeLinejoin="round" />
          {splitSegments(TOC_M, 10).map((seg, i) => (
            <path key={i} d={lineToc(seg) || ""} fill="none" stroke="#00b050" strokeWidth={3} />
          ))}
          {TOC_M.map((d, i) => (
            <rect key={i} x={xToc(d[1]) - 3.5} y={yD(d[0]) - 3.5} width={7} height={7} fill="#00b050" />
          ))}
        </g>
      </g>

      {/* ---------- Bench bands ---------- */}
      {BENCH_TOPS.map((t, i) => (
        <rect key={i} x={109} y={yD(t)} width={1213 - 109} height={yD(BENCH_BASES[i]) - yD(t)} fill={BENCH_COLORS[i]} />
      ))}

      {/* ---------- Callout ---------- */}
      <line x1={875} y1={407} x2={795} y2={552} stroke="#000" strokeWidth={1.6} />
      <g filter="url(#ashadow)" stroke="#111" strokeWidth={4.5} fill="none" strokeLinecap="round" strokeLinejoin="round">
        <line x1={754} x2={831} y1={566} y2={566} />
        <polyline points="771,556 754,566 771,576" />
        <polyline points="814,556 831,566 814,576" />
      </g>
      <g filter="url(#dshadow)">
        <rect x={876} y={302} width={264} height={150} fill="url(#boxGrad)" fillOpacity={0.9} stroke="#000" strokeWidth={2} />
      </g>
      <text x={896} y={362} fontFamily="Lato, 'Open Sans', sans-serif" fontWeight="bold" fontSize={46} fill="#c00000">Δ LOG R</text>
      <text x={896} y={425} fontFamily="Lato, 'Open Sans', sans-serif" fontWeight="bold" fontSize={49.5} fill="#c00000">Separation</text>

      {/* ---------- Bench arrows ---------- */}
      {BENCH_NAMES.map((name, i) => {
        const y = benchArrowY[i];
        return (
          <g key={name}>
            <polygon
              points={`1213,${y - 7.5} 1339,${y - 7.5} 1339,${y - 16.5} 1357,${y} 1339,${y + 16.5} 1339,${y + 7.5} 1213,${y + 7.5}`}
              fill="#000" />
            <text x={1376} y={547 + i * 55.5} fontFamily="Lato, 'Open Sans', sans-serif" fontSize={44} fill="#000">{name}</text>
          </g>
        );
      })}
    </svg>
  );
}
